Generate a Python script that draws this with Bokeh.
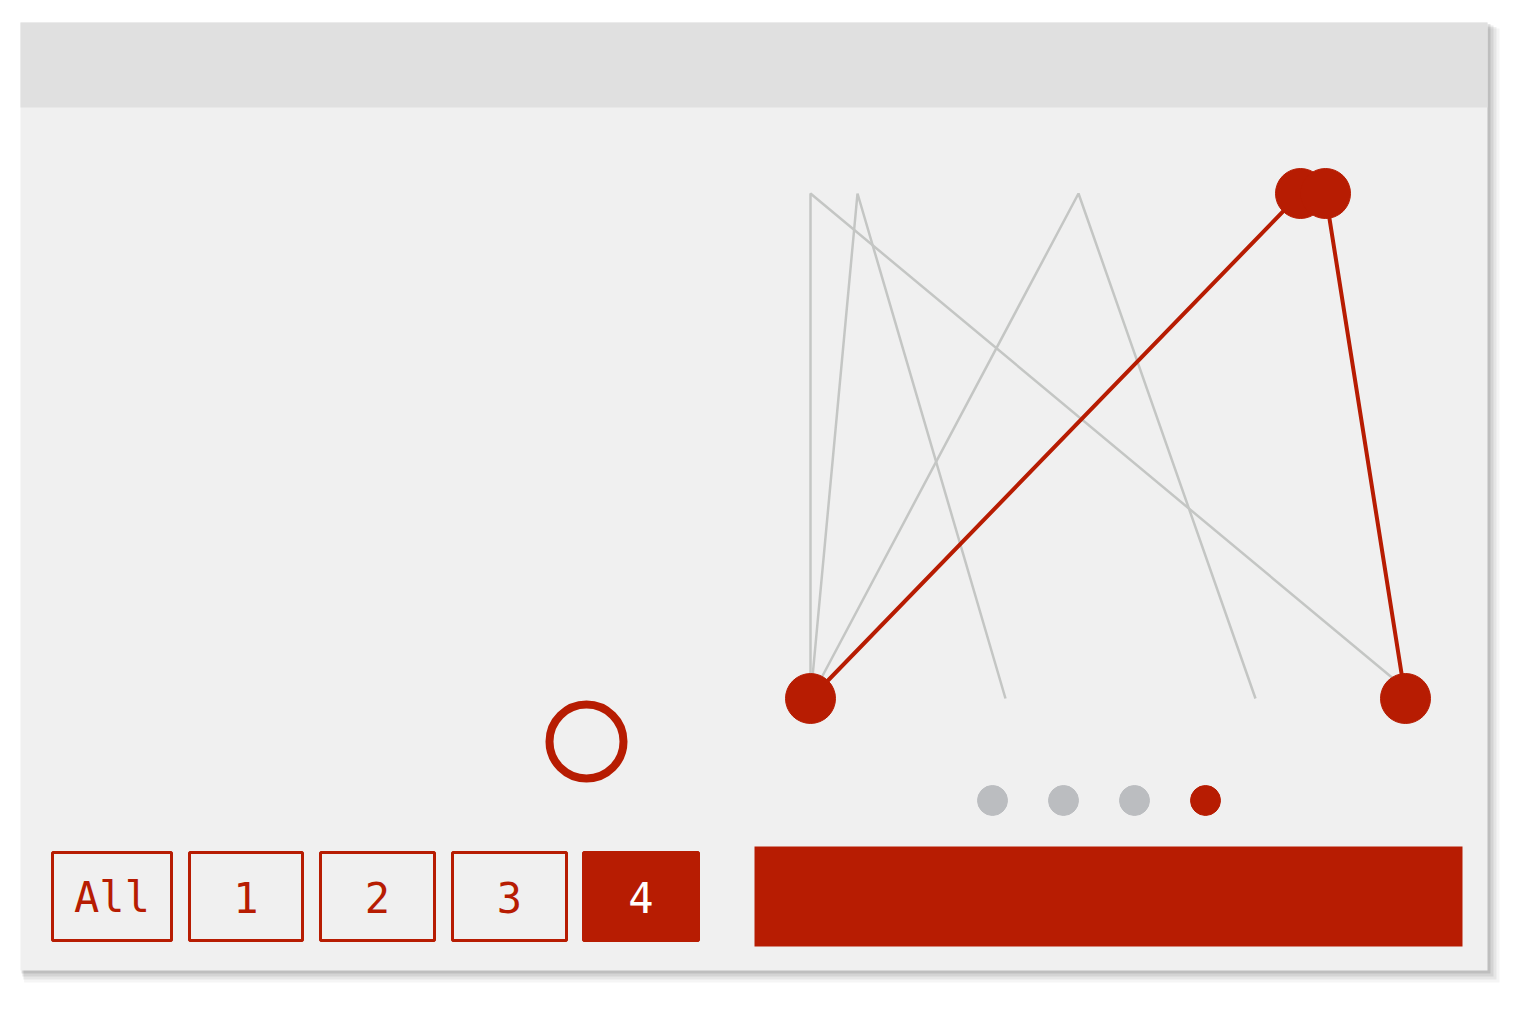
from bokeh.plotting import figure
from bokeh.models import Range1d
from bokeh.core.properties import value
from bokeh.embed import file_html
from bokeh.resources import INLINE

RED = "#b71c02"
GRAY_LINE = "#c4c6c4"

# previous (gray) paths and the current (red) path
gray_paths_x = [[810, 810, 1395], [810, 857, 1005], [810, 1078, 1255]]
gray_paths_y = [[698, 193, 680], [698, 193, 698], [698, 193, 698]]
red_x = [810, 1300, 1325, 1405]
red_y = [698, 193, 193, 698]

dot_x = [992, 1063, 1134, 1205]
dot_colors = ["#bbbdc0", "#bbbdc0", "#bbbdc0", RED]
dot_y = 800

button_labels = ["All", "1", "2", "3", "4"]
button_left = [52, 189, 320, 452, 583]
button_right = [171, 302, 434, 566, 698]
selected = "4"

p = figure(width=1514, height=999, output_backend="svg", toolbar_location=None,
           x_range=Range1d(0, 1514), y_range=Range1d(999, 0),
           min_border=0, background_fill_color="white", border_fill_color="white",
           outline_line_color=None)
p.axis.visible = False
p.grid.visible = False

# card shadow
for off, a in [(12, 0.04), (9, 0.06), (6, 0.08), (3, 0.1)]:
    p.quad(left=20 + off * 0.3, right=1487 + off, top=22 + off * 0.5, bottom=970 + off,
           fill_color="black", fill_alpha=a, line_color=None)
p.quad(left=20, right=1487, top=22, bottom=970, fill_color="#f0f0f0", line_color=None)
p.quad(left=20, right=1487, top=22, bottom=107, fill_color="#e0e0e0", line_color=None)

p.multi_line(gray_paths_x, gray_paths_y, line_color=GRAY_LINE, line_width=2.5)
p.line(red_x, red_y, line_color=RED, line_width=4)
p.scatter(red_x, red_y, size=50, color=RED)

p.scatter([586], [741], size=74, fill_color=None, line_color=RED, line_width=8)
p.scatter(dot_x, [dot_y] * 4, size=30, color=dot_colors)

fills = [RED if b == selected else None for b in button_labels]
txt = ["white" if b == selected else RED for b in button_labels]
p.quad(left=button_left, right=button_right, top=852, bottom=940,
       fill_color=fills, line_color=RED, line_width=3)
p.text([(l + r) / 2 for l, r in zip(button_left, button_right)], [897] * 5, text=button_labels,
       text_align="center", text_baseline="middle", text_color=txt,
       text_font=value("DejaVu Sans Mono"), text_font_size="42px")

p.quad(left=754, right=1462, top=846, bottom=946, fill_color=RED, line_color=None)

open("out.html", "w").write(file_html(p, INLINE))
